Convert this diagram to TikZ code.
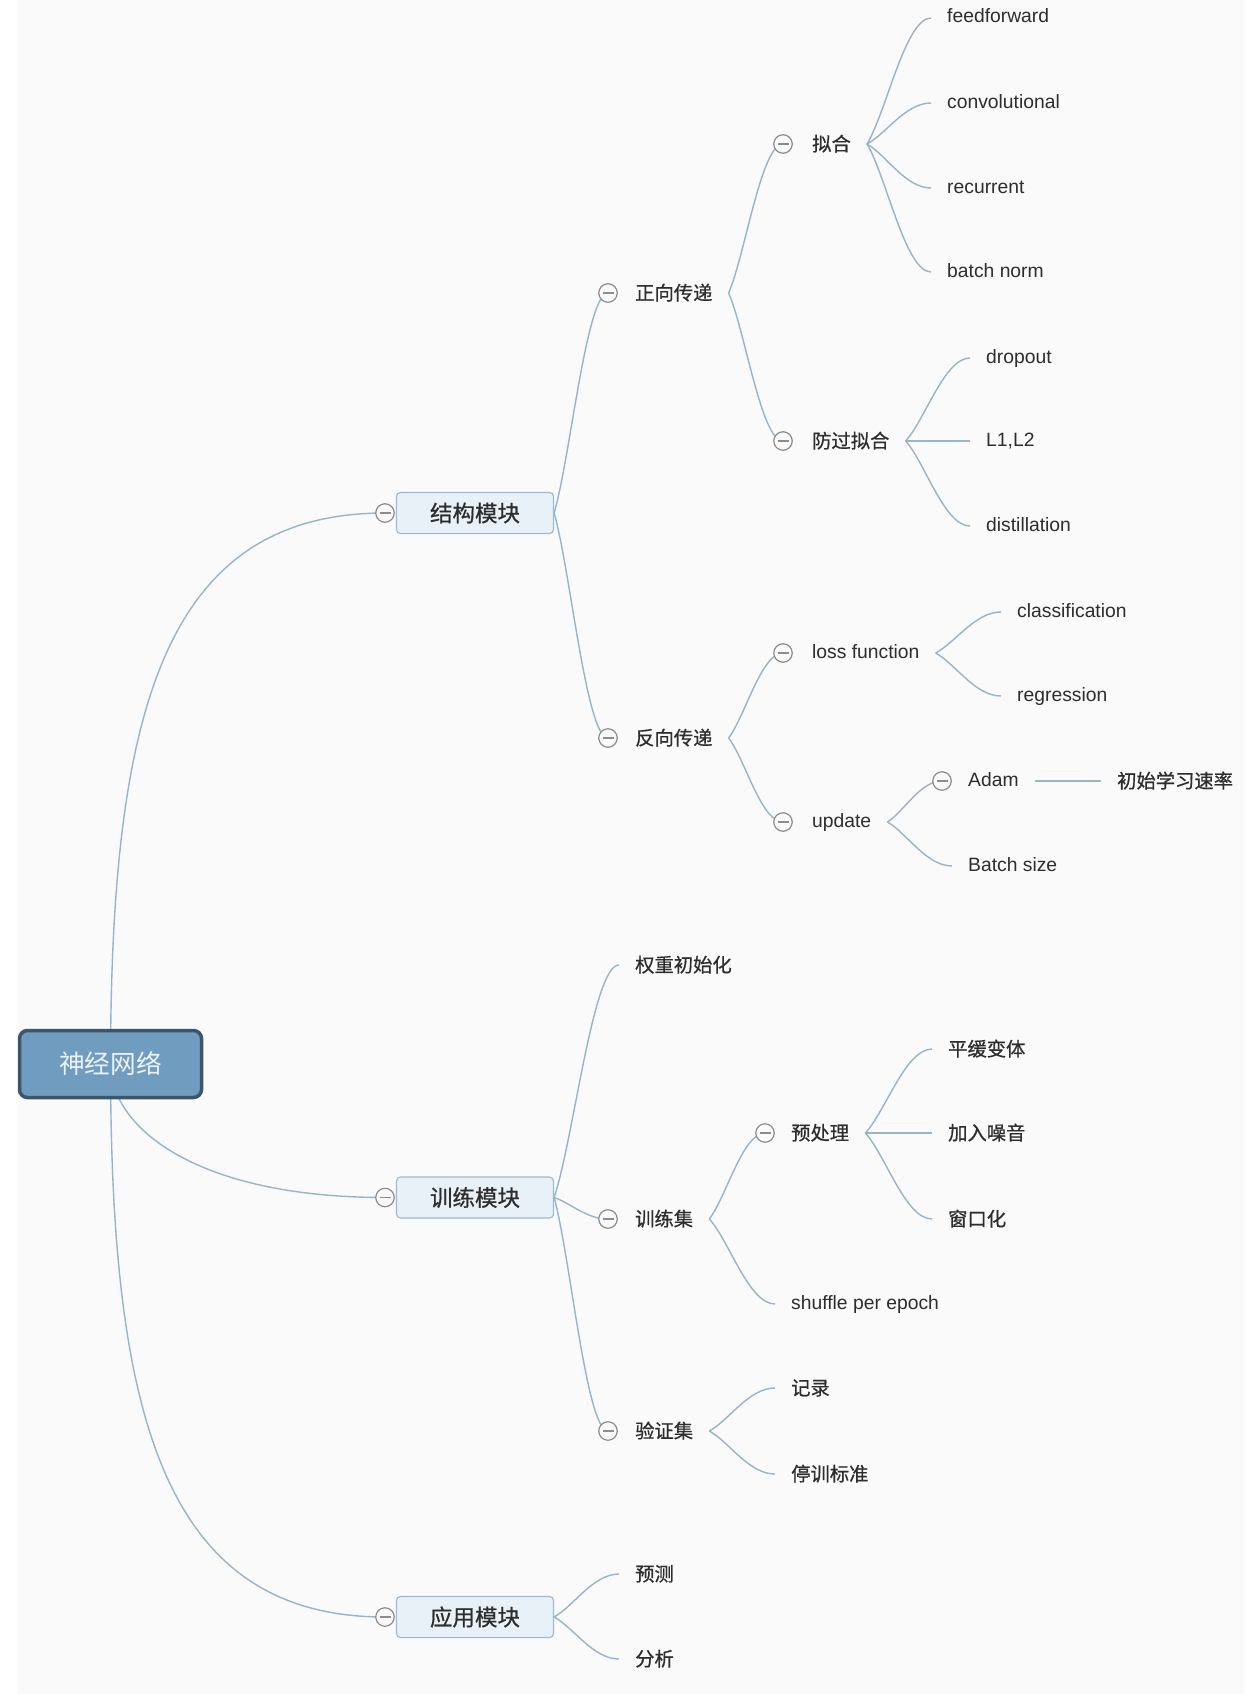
\documentclass[tikz,border=0pt]{standalone}
\usepackage{fontspec}
\setmainfont{Liberation Sans}
\newfontfamily\cjk{Noto Sans CJK SC}
\newfontfamily\cjkb[FakeBold=0.7]{Noto Sans CJK SC}
\usetikzlibrary{calc}
\pgfdeclarelayer{bg}
\pgfdeclarelayer{lines}
\pgfsetlayers{bg,lines,main}
\definecolor{bgray}{RGB}{250,250,250}
\definecolor{linec}{RGB}{150,180,204}
\definecolor{circc}{RGB}{140,140,140}
\definecolor{txtc}{RGB}{45,45,45}
\definecolor{rootfill}{RGB}{112,156,192}
\definecolor{rootdraw}{RGB}{62,84,104}
\definecolor{roottxt}{RGB}{236,242,247}
\definecolor{boxfill}{RGB}{233,241,248}
\definecolor{boxdraw}{RGB}{160,186,206}
\newcommand{\mmconn}[2]{\draw[conn] let \p1=(#1), \p2=(#2) in (\p1) .. controls ({\x1+0.3*(\x2-\x1)},{\y1+0.25*(\y2-\y1)}) and ({\x1+0.6*(\x2-\x1)},{\y2}) .. (\p2);}
\begin{document}
\begin{tikzpicture}[x=1pt,y=-1pt,
  conn/.style={draw=linec, line width=1.4pt},
  txt/.style={anchor=west, inner xsep=16pt, inner ysep=2pt, text=txtc, text height=14pt, text depth=4pt, font=\fontsize{19.3}{23}\selectfont},
  zh/.style={txt, text height=16pt, text depth=2pt, font=\cjkb\fontsize{19.3}{23}\selectfont},
  knob/.style={circle, draw=circc, line width=1.2pt, fill=bgray, minimum size=18.5pt, inner sep=0pt,
    path picture={\draw[circc, line width=1.2pt] ($(path picture bounding box.center)+(-5.5pt,0pt)$) -- ($(path picture bounding box.center)+(5.5pt,0pt)$);}},
  rootbox/.style={rectangle, rounded corners=8pt, draw=rootdraw, line width=3.5pt, fill=rootfill, minimum width=182pt, minimum height=67pt, text=roottxt, font=\cjk\fontsize{25.7}{30}\selectfont},
  lonebox/.style={rectangle, rounded corners=4pt, draw=boxdraw, line width=1.2pt, fill=boxfill, minimum width=157pt, minimum height=41pt, text=txtc, font=\cjkb\fontsize{22.5}{27}\selectfont}
]
\useasboundingbox (0,0) rectangle (1248,1694);
\begin{pgfonlayer}{bg}
\fill[white] (0,0) rectangle (1248,1694);
\fill[bgray] (18,0) rectangle (1245,1694);
\end{pgfonlayer}

% root and level 1
\node[rootbox] (root) at (110.5,1064) {神经网络};
\node[lonebox] (s) at (475,513) {结构模块};
\node[lonebox] (t) at (475,1197.5) {训练模块};
\node[lonebox] (u) at (475,1617) {应用模块};
\node[knob] (cs) at (385,513) {};
\node[knob] (ct) at (385,1197.5) {};
\node[knob] (cu) at (385,1617) {};

% level 2
\node[zh] (zx) at (619,293) {正向传递}; \node[knob] (czx) at (608,293) {};
\node[zh] (fx) at (619,738) {反向传递}; \node[knob] (cfx) at (608,738) {};
\node[zh] (qz) at (619,965) {权重初始化};
\node[zh] (xl) at (619,1219) {训练集}; \node[knob] (cxl) at (608,1219) {};
\node[zh] (yz) at (619,1431) {验证集}; \node[knob] (cyz) at (608,1431) {};
\node[zh] (yc) at (619,1574) {预测};
\node[zh] (fxi) at (619,1659) {分析};

% level 3
\node[zh] (nh) at (796,144) {拟合}; \node[knob] (cnh) at (783,144) {};
\node[zh] (fg) at (796,441) {防过拟合}; \node[knob] (cfg) at (783,441) {};
\node[txt] (loss) at (796,653) {loss function}; \node[knob] (closs) at (783,653) {};
\node[txt] (upd) at (796,822) {update}; \node[knob] (cupd) at (783,822) {};
\node[zh] (ycl) at (775,1133) {预处理}; \node[knob] (cycl) at (765,1133) {};
\node[txt] (shuf) at (775,1304) {shuffle per epoch};
\node[zh] (jl) at (775,1388) {记录};
\node[zh] (tx) at (775,1474) {停训标准};

% level 4
\node[txt] (ff) at (931,18) {feedforward};
\node[txt] (cv) at (931,103) {convolutional};
\node[txt] (rc) at (931,188) {recurrent};
\node[txt] (bn) at (931,272) {batch norm};
\node[txt] (dp) at (970,358) {dropout};
\node[txt] (ll) at (970,441) {L1,L2};
\node[txt] (ds) at (970,526) {distillation};
\node[txt] (cl) at (1001,612) {classification};
\node[txt] (rg) at (1001,696) {regression};
\node[txt] (adam) at (952,781) {Adam}; \node[knob] (cadam) at (942,781) {};
\node[txt] (bs) at (952,866) {Batch size};
\node[zh] (cs1) at (1101,781) {初始学习速率};
\node[zh] (ph) at (932,1049) {平缓变体};
\node[zh] (zy) at (932,1133) {加入噪音};
\node[zh] (ck) at (932,1219) {窗口化};

\begin{pgfonlayer}{lines}
\draw[conn] (root.center) .. controls (111,720) and (160,513) .. (cs.center);
\draw[conn] (root.center) .. controls (111,1130) and (200,1197.5) .. (ct.center);
\draw[conn] (root.center) .. controls (111,1408) and (160,1617) .. (cu.center);
\mmconn{s.east}{czx.center}
\mmconn{s.east}{cfx.center}
\mmconn{t.east}{qz.west}
\mmconn{t.east}{cxl.center}
\mmconn{t.east}{cyz.center}
\mmconn{u.east}{yc.west}
\mmconn{u.east}{fxi.west}
\mmconn{zx.east}{cnh.center}
\mmconn{zx.east}{cfg.center}
\mmconn{fx.east}{closs.center}
\mmconn{fx.east}{cupd.center}
\mmconn{nh.east}{ff.west}
\mmconn{nh.east}{cv.west}
\mmconn{nh.east}{rc.west}
\mmconn{nh.east}{bn.west}
\mmconn{fg.east}{dp.west}
\mmconn{fg.east}{ll.west}
\mmconn{fg.east}{ds.west}
\mmconn{loss.east}{cl.west}
\mmconn{loss.east}{rg.west}
\mmconn{upd.east}{cadam.center}
\mmconn{upd.east}{bs.west}
\draw[conn] (adam.east) -- (cs1.west);
\mmconn{xl.east}{cycl.center}
\mmconn{xl.east}{shuf.west}
\mmconn{ycl.east}{ph.west}
\mmconn{ycl.east}{zy.west}
\mmconn{ycl.east}{ck.west}
\mmconn{yz.east}{jl.west}
\mmconn{yz.east}{tx.west}
\end{pgfonlayer}
\end{tikzpicture}
\end{document}
